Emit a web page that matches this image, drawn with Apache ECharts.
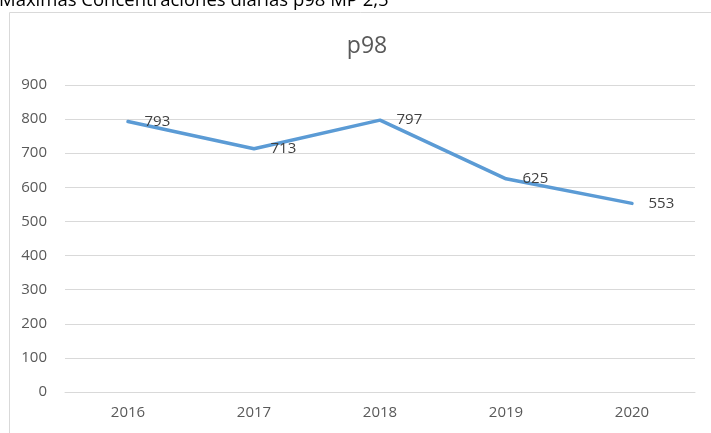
<!DOCTYPE html>
<html>
<head>
<meta charset="utf-8">
<script src="https://cdn.jsdelivr.net/npm/echarts@6/dist/echarts.min.js"></script>
<style>
  html, body { margin: 0; padding: 0; background: #fff; }
  #chart { width: 711px; height: 433px; }
</style>
</head>
<body>
<div id="chart"></div>
<script>
var years = ['2016', '2017', '2018', '2019', '2020'];
var p98 = [793, 713, 797, 625, 553];
var yTicks = [0, 900, 100];

var chart = echarts.init(document.getElementById('chart'));

chart.setOption({
    animation: false,
    textStyle: { fontFamily: 'Open Sans' },
    graphic: [
        {
            type: 'rect',
            shape: { x: 9.5, y: 12.5, width: 720, height: 440 },
            style: { fill: 'none', stroke: '#d9d9d9', lineWidth: 1 },
            z: -1
        },
        {
            type: 'text',
            left: -1,
            top: -9,
            style: {
                text: 'Máximas Concentraciones diarias p98 MP 2,5',
                fill: '#000',
                font: '18.5px "Open Sans"'
            }
        }
    ],
    title: {
        text: 'p98',
        left: 362,
        top: 30,
        textAlign: 'center',
        textStyle: { fontSize: 23, fontWeight: 'normal', color: '#595959', fontFamily: 'Open Sans' }
    },
    grid: {
        left: 65,
        right: 16,
        top: 85,
        bottom: 41
    },
    xAxis: {
        type: 'category',
        data: years,
        boundaryGap: true,
        axisLine: { lineStyle: { color: '#d9d9d9' } },
        axisTick: { show: false },
        axisLabel: { color: '#595959', fontSize: 15, margin: 13 }
    },
    yAxis: {
        type: 'value',
        min: yTicks[0],
        max: yTicks[1],
        interval: yTicks[2],
        axisLine: { show: false },
        axisTick: { show: false },
        splitLine: { lineStyle: { color: '#d9d9d9' } },
        axisLabel: { color: '#595959', fontSize: 15, margin: 18 }
    },
    series: [{
        name: 'p98',
        type: 'line',
        data: p98,
        showSymbol: true,
        symbol: 'circle',
        symbolSize: 1,
        lineStyle: { color: '#5b9bd5', width: 3.5, cap: 'round', join: 'round' },
        itemStyle: { color: '#5b9bd5' },
        label: {
            show: true,
            position: 'right',
            distance: 16,
            color: '#404040',
            fontSize: 15
        }
    }]
});
</script>
</body>
</html>
